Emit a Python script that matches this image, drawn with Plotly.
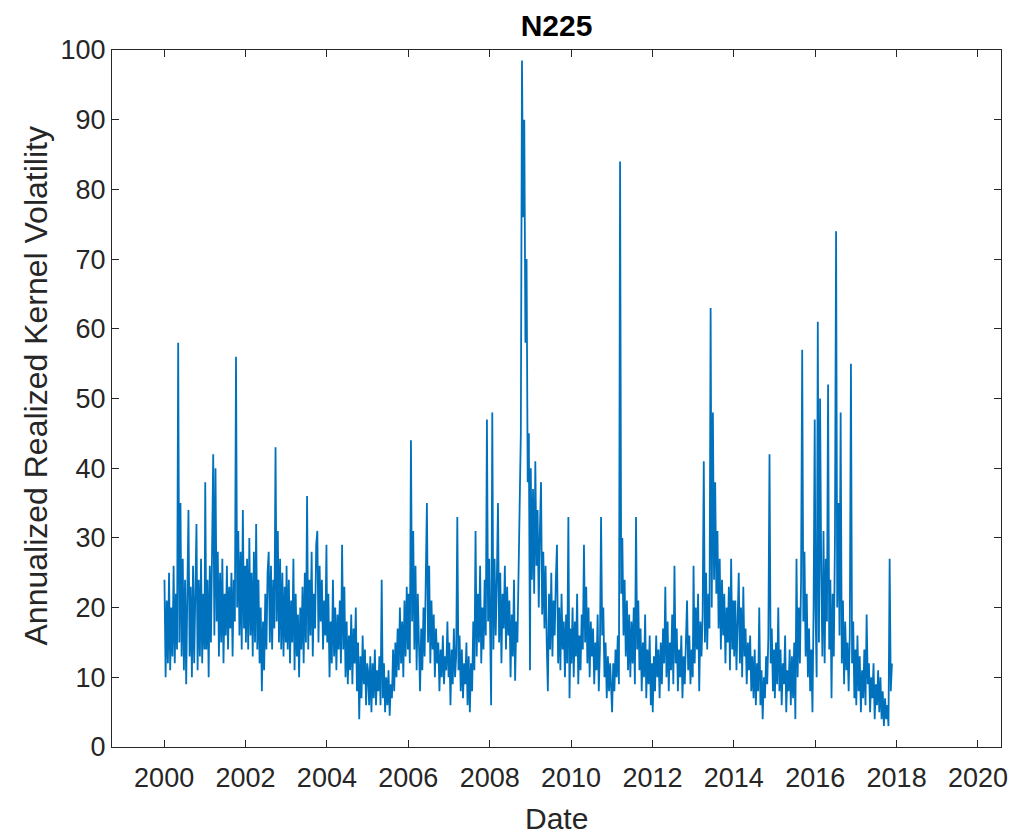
#!/usr/bin/env python3
'''
N225 annualized realized kernel volatility, daily-ish series 2000-2017 (values read off the figure).
'''
import pandas as pd
import plotly.graph_objects as go

OUT_HTML = 'out.html'

# one list per year, values in annualized vol (%), roughly every ten days
vol_2000 = [24, 10, 21, 12, 25, 11, 20, 13, 26, 12, 22, 14, 58, 15, 35, 13, 27, 11,
            24, 9, 22, 34, 13, 23, 10, 26, 12, 21, 32, 11, 24, 13, 27, 12, 22, 14]
vol_2001 = [38, 14, 24, 10, 26, 15, 30, 42, 16, 40, 18, 28, 13, 25, 15, 27, 12, 22,
            16, 26, 14, 23, 17, 25, 13, 24, 18, 56, 20, 31, 16, 28, 14, 34, 17, 26]
vol_2002 = [15, 27, 14, 30, 16, 25, 13, 28, 15, 32, 14, 24, 12, 20, 8, 18, 11, 22,
            14, 25, 28, 15, 26, 14, 24, 17, 43, 18, 31, 15, 27, 14, 25, 13, 23, 15]
vol_2003 = [26, 14, 24, 12, 21, 15, 27, 11, 22, 13, 19, 10, 20, 14, 23, 12, 25, 15,
            36, 14, 24, 16, 28, 13, 22, 17, 29, 31, 15, 26, 18, 24, 14, 21, 16, 29]
vol_2004 = [15, 22, 10, 18, 12, 24, 13, 20, 11, 19, 14, 21, 12, 29, 14, 23, 10, 18,
            9, 16, 11, 19, 9, 17, 12, 20, 8, 15, 4, 13, 7, 16, 9, 14, 6, 12]
vol_2005 = [11, 6, 13, 5, 12, 7, 14, 6, 11, 8, 13, 6, 24, 7, 12, 5, 10, 6,
            11, 4.5, 9, 7, 14, 8, 15, 10, 17, 11, 20, 12, 18, 10, 21, 13, 23, 14]
vol_2006 = [22, 12, 44, 18, 31, 14, 26, 11, 22, 13, 8, 17, 11, 20, 13, 24, 35, 15,
            26, 12, 21, 14, 19, 10, 17, 12, 15, 8, 14, 10, 16, 9, 13, 11, 18, 10]
vol_2007 = [15, 6, 14, 9, 17, 10, 13, 33, 11, 16, 8, 14, 7, 12, 9, 15, 6, 13,
            5, 12, 8, 18, 11, 31, 13, 22, 15, 26, 12, 20, 14, 24, 16, 47, 18, 27]
vol_2008 = [20, 6, 48, 14, 27, 16, 24, 35, 15, 25, 12, 22, 17, 26, 14, 23, 16, 21,
            10, 19, 13, 24, 9.5, 18, 15, 26, 40, 45, 98.5, 76, 90, 58, 70, 38, 45, 11]
vol_2009 = [40, 24, 37, 22, 41, 26, 34, 20, 31, 38, 19, 28, 17, 26, 15, 8, 22, 14,
            25, 13, 21, 16, 24, 29, 12, 20, 11, 22, 14, 18, 10, 19, 12, 33, 7, 17]
vol_2010 = [12, 20, 10, 18, 13, 22, 9, 16, 11, 19, 14, 29, 15, 23, 12, 20, 10, 18,
            13, 17, 9, 15, 11, 19, 8, 14, 33, 16, 20, 10, 15, 7, 13, 8, 12, 6]
vol_2011 = [5, 12, 8, 14, 10, 16, 9, 84, 22, 30, 16, 24, 13, 21, 11, 19, 10, 18,
            12, 20, 9, 33, 14, 21, 11, 17, 8, 15, 10, 19, 7, 14, 9, 16, 6, 12]
vol_2012 = [5, 13, 8, 16, 10, 14, 7, 15, 9, 17, 12, 23, 10, 18, 8, 15, 11, 19,
            9, 26, 12, 17, 8, 14, 10, 16, 7, 13, 9, 15, 21, 11, 16, 9, 14, 10]
vol_2013 = [26, 12, 20, 14, 22, 8, 18, 13, 19, 41, 15, 25, 14, 22, 17, 63, 20, 48,
            24, 38, 22, 31, 17, 27, 14, 24, 16, 22, 12, 20, 15, 23, 11, 27, 14, 21]
vol_2014 = [13, 21, 11, 18, 25, 12, 20, 10, 23, 13, 17, 9, 15, 11, 16, 8, 13, 7,
            14, 6, 12, 8, 20, 6, 11, 4, 10, 7, 13, 9, 16, 42, 12, 17, 8, 14]
vol_2015 = [7, 15, 9, 20, 8, 14, 6, 12, 9, 16, 5, 11, 8, 14, 6, 13, 7, 15,
            4, 27, 10, 20, 12, 24, 57, 18, 28, 13, 22, 10, 17, 8, 14, 5, 20, 47]
vol_2016 = [20, 10, 61, 15, 50, 25, 13, 31, 12, 27, 18, 52, 14, 24, 7, 22, 13, 30,
            74, 20, 35, 16, 48, 12, 21, 9, 18, 11, 15, 8, 16, 55, 12, 18, 7, 14]
vol_2017 = [6, 16, 8, 13, 5, 11, 7, 14, 6, 19, 9, 12, 5, 10, 7, 12, 4, 9,
            6, 11, 5, 10, 4, 8, 3, 7, 4, 6, 3, 27, 8, 12]

YEARLY = [(2000, vol_2000), (2001, vol_2001), (2002, vol_2002), (2003, vol_2003),
          (2004, vol_2004), (2005, vol_2005), (2006, vol_2006), (2007, vol_2007),
          (2008, vol_2008), (2009, vol_2009), (2010, vol_2010), (2011, vol_2011),
          (2012, vol_2012), (2013, vol_2013), (2014, vol_2014), (2015, vol_2015),
          (2016, vol_2016), (2017, vol_2017)]
LAST_DAY = '2017-11-20'   # series stops in late 2017

INK = '#262626'
FONT = 'Arial, Liberation Sans, sans-serif'
# the page body keeps the browser's 8px margin, so the figure is sized to fit inside it
PAGE_PAD = 8


def build_frame():
    parts = []
    for yr, vals in YEARLY:
        end = LAST_DAY if yr == 2017 else '{}-12-28'.format(yr)
        dates = pd.date_range('{}-01-04'.format(yr), end, periods=len(vals))
        parts.append(pd.DataFrame({'date': dates, 'vol': vals}))
    return pd.concat(parts, ignore_index=True)


def main():
    df = build_frame()
    fig = go.Figure(go.Scatter(x=df['date'], y=df['vol'], mode='lines',
                               line=dict(color='#0072BD', width=1.8)))

    axis_common = dict(showline=True, linecolor=INK, linewidth=1, mirror='ticks',
                       ticks='inside', ticklen=7, tickcolor=INK, showgrid=False,
                       zeroline=False, tickfont=dict(size=27, color=INK, family=FONT))
    fig.update_xaxes(range=['1998-09-20', '2020-07-26'], tick0='2000-01-01',
                     dtick='M24', tickformat='%Y', ticklabelstandoff=7, **axis_common)
    fig.update_yaxes(range=[0, 100], dtick=10, **axis_common)

    height = 837 - PAGE_PAD
    fig.update_layout(
        width=1019 - PAGE_PAD, height=height,
        margin=dict(l=112 - PAGE_PAD, r=18, t=50 - PAGE_PAD, b=90),
        plot_bgcolor='white', paper_bgcolor='white',
        showlegend=False,
        title=dict(text='<b>N225</b>', x=0.5, xref='paper', y=1 - (25 - PAGE_PAD) / height,
                   yref='container', yanchor='middle', xanchor='center',
                   font=dict(size=30, color='#000000', family=FONT)),
    )
    # axis labels placed like the MATLAB ones
    fig.add_annotation(text='Date', x=0.5, y=0, xref='paper', yref='paper',
                       yshift=-71, showarrow=False, yanchor='middle',
                       font=dict(size=30, color=INK, family=FONT))
    fig.add_annotation(text='Annualized Realized Kernel Volatility', x=0, y=0.5,
                       xref='paper', yref='paper', xshift=-77, yshift=12,
                       textangle=-90, showarrow=False, xanchor='center',
                       font=dict(size=32, color=INK, family=FONT))

    fig.write_html(OUT_HTML)
    print('figure saved at {}'.format(OUT_HTML))


if __name__ == '__main__':
    main()
